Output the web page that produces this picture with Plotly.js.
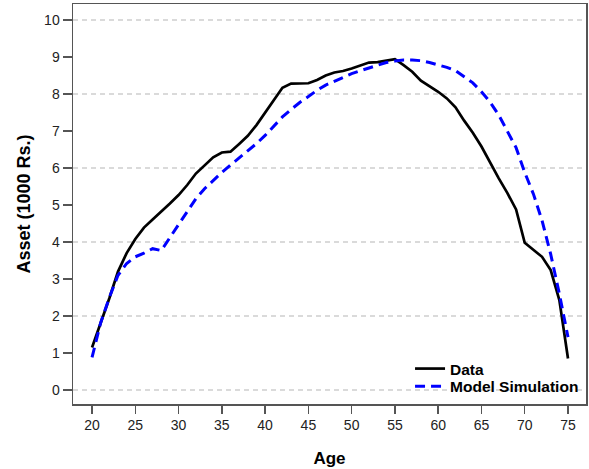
<!DOCTYPE html>
<html>
<head>
<meta charset="utf-8">
<script src="https://cdn.plot.ly/plotly-3.0.1.min.js"></script>
<style>html,body{margin:0;padding:0;background:#fff}#chart{width:589px;height:469px}</style>
</head>
<body>
<div id="chart"></div>
<script>
var ages = [20,21,22,23,24,25,26,27,28,29,30,31,32,33,34,35,36,37,38,39,40,41,42,43,44,45,46,47,48,49,50,51,52,53,54,55,56,57,58,59,60,61,62,63,64,65,66,67,68,69,70,71,72,73,74,75];
var dataAsset = [1.15,1.8,2.48,3.2,3.7,4.08,4.39,4.61,4.82,5.04,5.27,5.54,5.85,6.08,6.29,6.42,6.44,6.65,6.87,7.16,7.5,7.84,8.17,8.28,8.28,8.29,8.38,8.5,8.58,8.62,8.69,8.77,8.85,8.86,8.89,8.94,8.78,8.6,8.36,8.22,8.06,7.88,7.64,7.28,6.95,6.58,6.13,5.72,5.32,4.88,3.98,3.8,3.6,3.24,2.43,0.85];
var modelAsset = [0.88,1.82,2.5,3.1,3.42,3.6,3.7,3.82,3.77,4.12,4.5,4.85,5.17,5.44,5.67,5.88,6.08,6.27,6.46,6.66,6.88,7.13,7.38,7.58,7.77,7.93,8.1,8.24,8.35,8.45,8.55,8.63,8.71,8.78,8.85,8.89,8.92,8.92,8.9,8.85,8.79,8.72,8.63,8.47,8.3,8.06,7.78,7.43,7.0,6.55,5.88,5.3,4.58,3.67,2.6,1.43];
var seriesNames = ["Data", "Model Simulation"];
var xTicks = [20,25,30,35,40,45,50,55,60,65,70,75];
var yTicks = [0,1,2,3,4,5,6,7,8,9,10];
var yGrid = [0,2,4,6,8,10];

var font = "Liberation Sans, Arial, sans-serif";
var traces = [
  {x: ages, y: dataAsset, name: seriesNames[0], type: "scatter", mode: "lines",
   yaxis: "y", legend: "legend",
   line: {color: "#000000", width: 2.7}},
  {x: ages, y: modelAsset, name: seriesNames[1], type: "scatter", mode: "lines",
   yaxis: "y2", legend: "legend2",
   line: {color: "#0000FF", width: 3, dash: "10px,6px"}}
];
var yr = [-0.378, 10.432];
var legFont = {family: font, size: 15.5, color: "#000", weight: "bold"};
var layout = {
  width: 589, height: 469,
  margin: {l: 73, r: 3, t: 4, b: 65},
  paper_bgcolor: "#fff", plot_bgcolor: "#fff",
  showlegend: true,
  legend: {x: 0.657, xanchor: "left", y: 0.0875, yanchor: "middle",
    bgcolor: "rgba(0,0,0,0)", borderwidth: 0, font: legFont},
  legend2: {x: 0.657, xanchor: "left", y: 0.0435, yanchor: "middle",
    bgcolor: "rgba(0,0,0,0)", borderwidth: 0, font: legFont},
  xaxis: {range: [17.8, 77.08], tickvals: xTicks, ticktext: xTicks.map(String),
    ticks: "outside", ticklen: 8, tickwidth: 1.5, tickcolor: "#555",
    showline: true, linecolor: "#555", linewidth: 1.5, mirror: true,
    showgrid: false, zeroline: false,
    tickfont: {family: font, size: 14, color: "#222"},
    title: {text: "Age", font: {family: font, size: 17, color: "#000", weight: "bold"}, standoff: 20}},
  yaxis: {range: yr, tickvals: yTicks, ticktext: yTicks.map(String),
    ticks: "outside", ticklen: 9, tickwidth: 1.5, tickcolor: "#555",
    showline: true, linecolor: "#555", linewidth: 1.5, mirror: true,
    showgrid: false, zeroline: false,
    tickfont: {family: font, size: 14, color: "#222"},
    title: {text: "Asset (1000 Rs.)", font: {family: font, size: 18, color: "#000", weight: "bold"}, standoff: 9}},
  yaxis2: {range: yr, overlaying: "y", side: "left", tickvals: yGrid, showticklabels: false, ticks: "",
    showline: false, zeroline: false, showgrid: true,
    gridcolor: "#dadada", gridwidth: 1.3, griddash: "5px,4px"}
};
Plotly.newPlot("chart", traces, layout, {displayModeBar: false, staticPlot: true});
</script>
</body>
</html>
